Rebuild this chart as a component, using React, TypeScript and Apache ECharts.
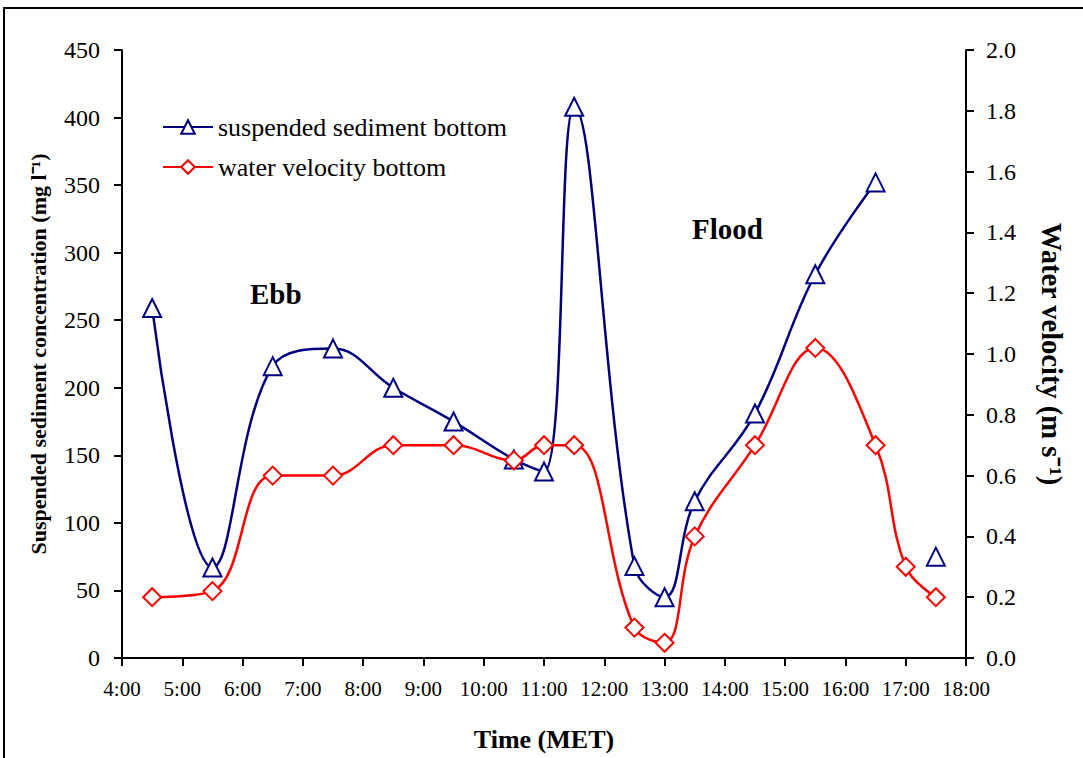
import React, { useEffect, useRef } from "react";
import * as echarts from "echarts";

const FONT = "'Liberation Serif', 'Times New Roman', serif";

const sedimentTimes = [4.5, 5.5, 6.5, 7.5, 8.5, 9.5, 10.5, 11, 11.5, 12.5, 13, 13.5, 14.5, 15.5, 16.5, 17, 17.5];
const sedimentValues: (number | null)[] = [259, 67, 216, 229, 200, 175, 147, 138, 408, 68, 45, 116, 181, 284, 352, null, 75];

const velocityTimes = [4.5, 5.5, 6.5, 7.5, 8.5, 9.5, 10.5, 11, 11.5, 12.5, 13, 13.5, 14.5, 15.5, 16.5, 17, 17.5];
const velocityValues = [0.2, 0.22, 0.6, 0.6, 0.7, 0.7, 0.65, 0.7, 0.7, 0.1, 0.05, 0.4, 0.7, 1.02, 0.7, 0.3, 0.2];

const seriesNames = ["suspended sediment bottom", "water velocity bottom"];
const annotations = ["Ebb", "Flood"];

export default function App() {
  const ref = useRef<HTMLDivElement>(null);
  useEffect(() => {
    if (!ref.current) return;
    const chart = echarts.init(ref.current, undefined, { renderer: "svg" });
    const axisLine = { show: true, lineStyle: { color: "#000", width: 2 } };
    const axisTick = { show: true, inside: false, length: 8, lineStyle: { color: "#000", width: 2 } };
    const yLabel = { color: "#000", fontFamily: FONT, fontSize: 24 };
    const xLabel = { color: "#000", fontFamily: FONT, fontSize: 21 };
    chart.setOption({
      animation: false,
      backgroundColor: "#fff",
      grid: { left: 122, right: 117, top: 50, bottom: 100 },
      legend: {
        left: 162,
        top: 114,
        padding: 0,
        orient: "vertical",
        itemWidth: 50,
        itemHeight: 17,
        itemGap: 14,
        textStyle: { color: "#000", fontFamily: FONT, fontSize: 26 },
        data: seriesNames,
      },
      xAxis: {
        type: "value",
        min: 4,
        max: 18,
        interval: 1,
        splitLine: { show: false },
        axisLine,
        axisTick,
        axisLabel: { ...xLabel, margin: 20, formatter: (v: number) => `${Math.floor(v)}:00` },
        name: "Time (MET)",
        nameLocation: "middle",
        nameGap: 68,
        nameTextStyle: { color: "#000", fontFamily: FONT, fontSize: 26, fontWeight: "bold" },
      },
      yAxis: [
        {
          type: "value",
          min: 0,
          max: 450,
          interval: 50,
          splitLine: { show: false },
          axisLine,
          axisTick,
          axisLabel: { ...yLabel, margin: 22 },
          name: "Suspended sediment concentration (mg l⁻¹)",
          nameLocation: "middle",
          nameRotate: 90,
          nameGap: 73,
          nameTextStyle: { color: "#000", fontFamily: FONT, fontSize: 22, fontWeight: "bold" },
        },
        {
          type: "value",
          min: 0,
          max: 2,
          interval: 0.2,
          position: "right",
          splitLine: { show: false },
          axisLine,
          axisTick,
          axisLabel: { ...yLabel, margin: 20, formatter: (v: number) => v.toFixed(1) },
          name: "Water velocity (m s⁻¹)",
          nameLocation: "middle",
          nameRotate: -90,
          nameGap: 71,
          nameTextStyle: { color: "#000", fontFamily: FONT, fontSize: 28.5, fontWeight: "bold" },
        },
      ],
      graphic: [
        {
          type: "rect",
          shape: { x: 4, y: 8, width: 1200, height: 900 },
          style: { fill: "none", stroke: "#000", lineWidth: 2 },
          silent: true,
        },
        {
          type: "text",
          x: 250,
          y: 294,
          style: { text: annotations[0], fill: "#000", font: `bold 29px ${FONT}`, verticalAlign: "middle" },
        },
        {
          type: "text",
          x: 692,
          y: 229,
          style: { text: annotations[1], fill: "#000", font: `bold 29px ${FONT}`, verticalAlign: "middle" },
        },
      ],
      series: [
        {
          name: seriesNames[0],
          type: "line",
          yAxisIndex: 0,
          smooth: 0.4,
          connectNulls: false,
          symbol: "triangle",
          symbolSize: 18,
          showAllSymbol: true,
          lineStyle: { color: "#000080", width: 2.5 },
          itemStyle: { color: "#fff", borderColor: "#000080", borderWidth: 2 },
          data: sedimentTimes.map((t, i) => [t, sedimentValues[i] === null ? "-" : sedimentValues[i]]),
          z: 3,
        },
        {
          name: seriesNames[1],
          type: "line",
          yAxisIndex: 1,
          smooth: 0.4,
          symbol: "diamond",
          symbolSize: 18,
          showAllSymbol: true,
          lineStyle: { color: "#ff0000", width: 2.5 },
          itemStyle: { color: "#fff", borderColor: "#ff0000", borderWidth: 2 },
          data: velocityTimes.map((t, i) => [t, velocityValues[i]]),
          z: 4,
        },
      ],
    });
    return () => chart.dispose();
  }, []);
  return (
    <div
      ref={ref}
      style={{ position: "fixed", left: 0, top: 0, width: 1083, height: 758, background: "#fff" }}
    />
  );
}
